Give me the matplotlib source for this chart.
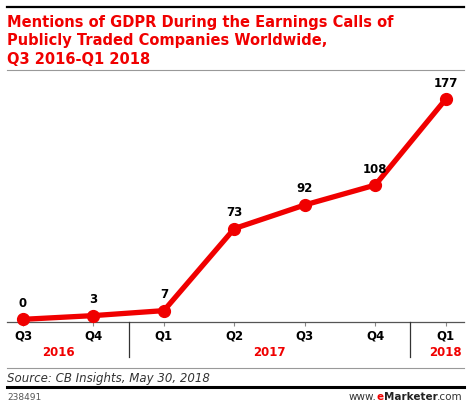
import matplotlib
matplotlib.use("Agg")
import matplotlib.pyplot as plt
import matplotlib.transforms as mtransforms
from matplotlib.lines import Line2D

quarters = ["Q3", "Q4", "Q1", "Q2", "Q3", "Q4", "Q1"]
mentions = [0, 3, 7, 73, 92, 108, 177]
years = ["2016", "2017", "2018"]
year_pos = [0.5, 3.5, 6]
year_breaks = [1.5, 5.5]

title_lines = ["Mentions of GDPR During the Earnings Calls of",
               "Publicly Traded Companies Worldwide,",
               "Q3 2016-Q1 2018"]

RED = "#f00000"
W, H = 470, 409

plt.rcParams["font.family"] = ["DejaVu Sans"]

fig = plt.figure(figsize=(W / 100, H / 100), dpi=100)


def fy(px):
    # pixel from top -> figure fraction
    return 1 - px / H


def fx(px):
    return px / W


# rules
fig.add_artist(Line2D([fx(7), fx(464)], [fy(7), fy(7)], color="black", lw=1.6))
fig.add_artist(Line2D([fx(7), fx(464)], [fy(70), fy(70)], color="#999999", lw=0.8))
fig.add_artist(Line2D([fx(7), fx(464)], [fy(368), fy(368)], color="#999999", lw=0.8))
fig.add_artist(Line2D([fx(7), fx(464)], [fy(387), fy(387)], color="black", lw=2.2))

# title
for i, line in enumerate(title_lines):
    fig.text(fx(7), fy(27.5 + 18 * i), line, color=RED, fontsize=10.5,
             fontweight="bold", va="baseline", ha="left")

ax = fig.add_axes([fx(7), fy(321.7), fx(457), (321.7 - 80) / H])
x = list(range(len(mentions)))
ax.plot(x, mentions, color=RED, lw=3.8, marker="o", markersize=8.5,
        solid_capstyle="round", clip_on=False, zorder=3)
for xi, v in zip(x, mentions):
    ax.annotate(str(v), (xi, v), xytext=(0, 11.5), textcoords="offset points",
                ha="center", va="center", fontsize=8.5, fontweight="bold")

ax.set_xlim(-0.227, 6.26)
ax.set_ylim(-1.9, 192.5)
for s in ["top", "left", "right"]:
    ax.spines[s].set_visible(False)
ax.spines["bottom"].set_color("#555555")
ax.spines["bottom"].set_linewidth(0.9)
ax.set_yticks([])
ax.set_xticks(x, quarters, fontsize=8.5, fontweight="bold")
ax.tick_params(axis="x", direction="out", length=3, width=0.8, color="#888888", pad=2.5)

trans = mtransforms.blended_transform_factory(ax.transData, fig.transFigure)
for xb in year_breaks:
    fig.add_artist(Line2D([xb, xb], [fy(321.7), fy(357)], color="#333333", lw=0.9,
                          transform=trans))
for yr, xp in zip(years, year_pos):
    ax.text(xp, fy(352.3), yr, transform=trans, ha="center", va="center",
            color=RED, fontsize=8.5, fontweight="bold")

# footer
fig.text(fx(7), fy(381.7), "Source: CB Insights, May 30, 2018", fontsize=8.5,
         style="italic", color="#333333", va="baseline")
fig.text(fx(7), fy(400.5), "238491", fontsize=6.5, color="#555555", va="baseline")

fig.canvas.draw()
renderer = fig.canvas.get_renderer()
parts = [(".com", "normal", "#333333"), ("Marketer", "bold", "#222222"),
         ("e", "bold", RED), ("www.", "normal", "#333333")]
right = 463
for txt, wt, col in parts:
    t = fig.text(fx(right), fy(400.5), txt, fontsize=7.5, fontweight=wt,
                 color=col, ha="right", va="baseline")
    bb = t.get_window_extent(renderer)
    right = bb.x0

fig.savefig("out.png", dpi=100)
